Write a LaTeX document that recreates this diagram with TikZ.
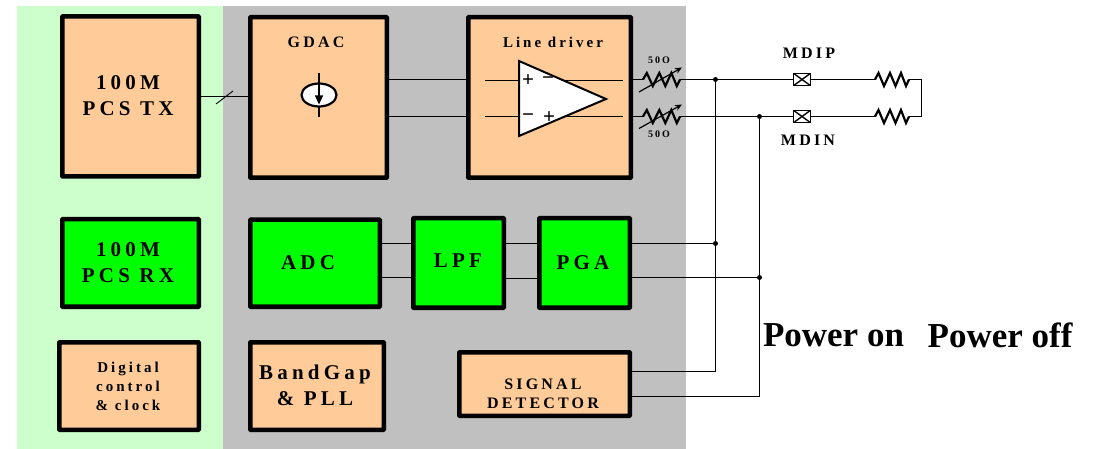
\documentclass[tikz,border=0pt]{standalone}
\usepackage{fontspec}
\usepackage{xcolor}
\setmainfont{Liberation Serif}
\newfontfamily\blockfont[LetterSpace=20]{Liberation Serif}
\usetikzlibrary{positioning,arrows.meta}
\usetikzlibrary{shapes.geometric}
\definecolor{PaleGreen}{HTML}{CCFFCC}
\definecolor{PanelGray}{HTML}{C0C0C0}
\definecolor{BlockOrange}{HTML}{FFCC99}
\definecolor{BlockGreen}{HTML}{00FF00}
\tikzset{
    block/.style={
        draw,
        line width=4.5pt,
        rounded corners=0.5pt,
        inner sep=0pt
    },
    orange block/.style={block,fill=BlockOrange},
    green block/.style={block,fill=BlockGreen},
    big text/.style={font=\blockfont\bfseries\fontsize{21}{26}\selectfont,align=center,inner sep=0pt},
    mid text/.style={font=\blockfont\bfseries\fontsize{16}{19}\selectfont,align=center,inner sep=0pt},
    small text/.style={font=\blockfont\bfseries\fontsize{15}{19}\selectfont,align=center,inner sep=0pt},
    tiny text/.style={font=\blockfont\bfseries\fontsize{10}{12}\selectfont,inner sep=0pt},
    wire/.style={line width=1.3pt},
    junction/.style={circle,fill=black,inner sep=0pt,minimum size=5pt},
    pad/.style={
        draw,
        fill=white,
        line width=1.4pt,
        minimum width=16.5pt,
        minimum height=12pt,
        inner sep=0pt,
        path picture={
            \draw (path picture bounding box.north west) -- (path picture bounding box.south east);
            \draw (path picture bounding box.south west) -- (path picture bounding box.north east);
        }
    },
    resistor/.pic={
        \draw[line width=2.2pt] (0,0) -- (3.5,-6.5) -- (9,6.5) -- (15,-6.5) -- (20.5,6.5) -- (26,-6.5) -- (31,6.5) -- (34,0);
    }
}
\begin{document}
\begin{tikzpicture}[x=1pt,y=-1pt]
    \useasboundingbox (0,0) rectangle (1093,449);
    \fill[PaleGreen] (17,6) rectangle (223,449);
    \fill[PanelGray] (223,6) rectangle (686,449);

    \node[orange block,minimum width=136.5pt,minimum height=160pt] (pcstx) at (130.5,96.5) {};
    \node[orange block,minimum width=136.5pt,minimum height=160.5pt] (gdac) at (318.5,97.5) {};
    \node[orange block,minimum width=162.5pt,minimum height=160.5pt] (driver) at (549.5,97.5) {};
    \node[green block,minimum width=136.5pt,minimum height=87.5pt] (pcsrx) at (130.5,263) {};
    \node[green block,minimum width=129.5pt,minimum height=87pt] (adc) at (315,263.25) {};
    \node[green block,minimum width=90.5pt,minimum height=89.5pt] (lpf) at (458.5,263) {};
    \node[green block,minimum width=90.5pt,minimum height=89.5pt] (pga) at (584.5,263) {};
    \node[orange block,minimum width=139.5pt,minimum height=87.5pt] (digital) at (129,386) {};
    \node[orange block,minimum width=133.5pt,minimum height=87.5pt] (bandgap) at (317,386) {};
    \node[orange block,minimum width=170.5pt,minimum height=63.5pt] (detector) at (544.5,384) {};

    \node[big text] (pcstxtext) at (128,96) {100M\\PCS TX};
    \node[big text] (pcsrxtext) at (128,263) {100M\\PCS RX};
    \node[big text] (adctext) at (308,263) {ADC};
    \node[big text] (lpftext) at (458,261) {LPF};
    \node[big text] (pgatext) at (583,263) {PGA};
    \node[big text] (bandgaptext) at (315,385) {BandGap\\\& PLL};
    \node[mid text] (gdactext) at (316,42) {GDAC};
    \node[small text] (drivertext) at (553,42) {Line driver};
    \node[small text] (digitaltext) at (128,386) {Digital\\control\\\& clock};
    \node[mid text] (detectortext) at (543,393.5) {SIGNAL\\DETECTOR};

    \draw[wire] (pcstx.east) -- (pcstx.east -| gdac.west);
    \draw[line width=0.9pt] (216,104) -- (233,91);

    \coordinate (gdacp) at (389,79.5);
    \coordinate (gdacn) at (389,116.5);
    \foreach \s/\t in {gdacp/driver,gdacn/driver}
      \draw[wire] (\s) -- (\s -| \t.west);
    \foreach \y in {80.5,116.5}
      \draw[wire] (485,\y) -- (623,\y);
    \draw[fill=white,line width=2pt] (519,61) -- (606,99) -- (519,136) -- cycle;
    \foreach \x/\y/\t in {528/81/+,548/81/\textminus,528/118/\textminus,549/118/+}
      \node[font=\bfseries\fontsize{21}{21}\selectfont,inner sep=0pt] at (\x,\y) {\t};

    \draw[line width=1.6pt] (319,73) -- (319,117);
    \node[draw,ellipse,fill=white,line width=2.2pt,minimum width=35pt,minimum height=23pt,inner sep=0pt] (isrc) at (319,95) {};
    \draw[line width=1.2pt,-{Triangle[length=9pt,width=8pt]}] (isrc.north) -- (319,104.5);

    \node[junction] (toppos) at (715.5,79.5) {};
    \node[junction] (topneg) at (759.5,116.5) {};
    \node[junction] (pgapos) at (715.5,243.5) {};
    \node[junction] (pganeg) at (759.5,277.5) {};

    \foreach \y/\a in {79.5/toppos,116.5/topneg}{
      \draw[wire] (633,\y) -- (643,\y);
      \pic[xscale=1.09] at (643,\y) {resistor};
      \draw[wire] (680,\y) -- (\a);
    }
    \draw[line width=1.2pt,-{Stealth[length=7pt,width=6pt]}] (639,92) -- (682,67.5);
    \draw[line width=1.2pt,-{Stealth[length=7pt,width=6pt]}] (639,128.5) -- (682,104.5);
    \node[tiny text] (topfifty) at (659,60) {50O};
    \node[tiny text] (botfifty) at (659,134) {50O};

    \node[pad] (mdipbox) at (802,79.5) {};
    \node[pad] (mdinbox) at (802,116.5) {};
    \node[mid text] (mdiptext) at (809,53) {MDIP};
    \node[mid text] (mdintext) at (808,140) {MDIN};
    \draw[wire] (toppos) -- (mdipbox);
    \draw[wire] (topneg) -- (mdinbox);
    \pic at (875,79.5) {resistor};
    \pic at (875,116.5) {resistor};
    \draw[wire] (mdipbox) -- (875,79.5);
    \draw[wire] (mdinbox) -- (875,116.5);
    \draw[wire] (909,79.5) -- (921.5,79.5) -- (921.5,116.5) -- (909,116.5);

    \foreach \s/\t/\y in {adc/lpf/243.5,adc/lpf/277.5,lpf/pga/243.5,lpf/pga/278.5}
      \draw[wire] (\s.east |- 0,\y) -- (\t.west |- 0,\y);
    \draw[wire] (pga.east |- pgapos) -- (pgapos);
    \draw[wire] (pga.east |- pganeg) -- (pganeg);
    \draw[wire] (toppos) -- (pgapos) -- (715.5,371.5) -- (detector.east |- 0,371.5);
    \draw[wire] (topneg) -- (pganeg) -- (759.5,396.5) -- (detector.east |- 0,396.5);

    \node[font=\bfseries\fontsize{35}{40}\selectfont,inner sep=0pt] (poweron) at (833.5,335) {Power on};
    \node[font=\bfseries\fontsize{35}{40}\selectfont,inner sep=0pt] (poweroff) at (1000,335) {Power off};
\end{tikzpicture}
\end{document}
